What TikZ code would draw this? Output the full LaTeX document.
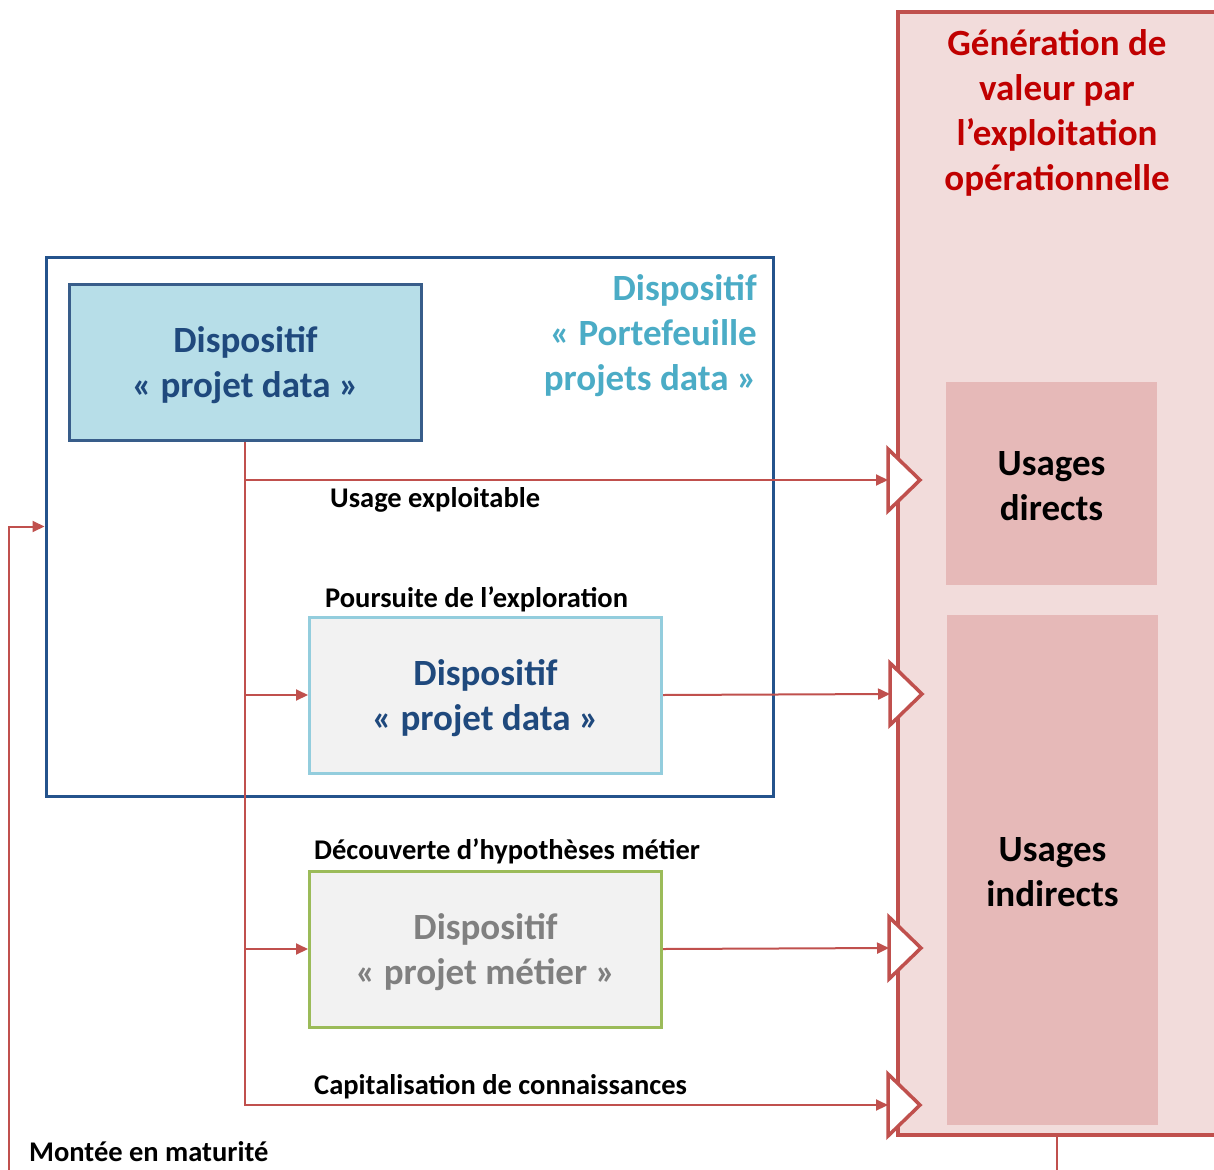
\documentclass[tikz,border=0pt]{standalone}
\usepackage{fontspec}
\setmainfont{Carlito}
\usetikzlibrary{arrows.meta}
\definecolor{rd}{HTML}{C0504D}
\definecolor{panelfill}{HTML}{F2DCDB}
\definecolor{usefill}{HTML}{E6B9B8}
\definecolor{dkblue}{HTML}{1F497D}
\definecolor{contblue}{HTML}{24538C}
\definecolor{box1border}{HTML}{385D8A}
\definecolor{box1fill}{HTML}{B7DEE8}
\definecolor{ltblue}{HTML}{93CDDD}
\definecolor{greenb}{HTML}{9BBB59}
\definecolor{boxgray}{HTML}{F2F2F2}
\definecolor{txtgray}{HTML}{808080}
\definecolor{teal}{HTML}{4BACC6}
\definecolor{titlered}{HTML}{C00000}
\newcommand\bigf{\fontsize{37}{45}\selectfont\bfseries}
\newcommand\lblf{\fontsize{28.5}{34}\selectfont\bfseries}
\begin{document}
\begin{tikzpicture}[x=1pt,y=-1pt,
  conn/.style={draw=rd, line width=2pt},
  tip/.style={-{Triangle[length=12pt,width=11pt]}},
  tri/.style={draw=rd, fill=white, line width=3.5pt, line join=miter},
  pbox/.style={draw, line width=3pt, minimum width=352pt, minimum height=156pt, inner sep=0pt},
  usebox/.style={fill=usefill, minimum width=211pt, inner sep=0pt},
  lbl/.style={anchor=west, inner sep=0pt, font=\lblf, text=black},
  ttl/.style={inner sep=0pt, align=center, font=\bigf}
]
\clip (0,0) rectangle (1214,1169);
\fill[white] (0,0) rectangle (1214,1169);
% right panel
\node[draw=rd, fill=panelfill, line width=3.5pt, minimum width=340pt, minimum height=1123pt, inner sep=0pt] (panel) at (1068,573.5) {};
\node[ttl, text=titlered] (ptitle) at (1057,112.5) {Génération de\\valeur par\\l’exploitation\\opérationnelle};
\node[usebox, minimum height=203pt] (ud) at (1051.5,483.5) {};
\node[ttl, text=black] (udt) at (1051.5,486.5) {Usages\\directs};
\node[usebox, minimum height=510pt] (ui) at (1052.5,870) {};
\node[ttl, text=black] (uit) at (1052.5,872.5) {Usages\\indirects};
% container
\node[draw=contblue, line width=3pt, minimum width=727pt, minimum height=539pt, inner sep=0pt] (cont) at (409.5,526.5) {};
\node[ttl, align=right, anchor=east, text=teal] (ctitle) at (757,336) {Dispositif\\« Portefeuille\\projets data »};
% boxes
\node[pbox, draw=box1border, fill=box1fill] (box1) at (245,362) {};
\node[ttl, text=dkblue] (box1t) at (245.5,365.5) {Dispositif\\« projet data »};
\node[pbox, draw=ltblue, fill=boxgray] (box2) at (485.5,695) {};
\node[ttl, text=dkblue] (box2t) at (485.5,698) {Dispositif\\« projet data »};
\node[pbox, draw=greenb, fill=boxgray] (box3) at (485.5,949) {};
\node[ttl, text=txtgray] (box3t) at (485.5,952.5) {Dispositif\\« projet métier »};
% labels
\node[lbl] (l1) at (330,500) {Usage exploitable};
\node[lbl] (l2) at (325,599.5) {Poursuite de l’exploration};
\node[lbl] (l3) at (314,851.5) {Découverte d’hypothèses métier};
\node[lbl] (l4) at (314,1087) {Capitalisation de connaissances};
\node[lbl] (l5) at (29,1152) {Montée en maturité};
% coordinates
\coordinate (t1) at (888,480);
\coordinate (t2) at (890,694);
\coordinate (t3) at (889,948);
\coordinate (t4) at (888,1105);
\coordinate (j4) at (245,1105);
\coordinate (mstart) at (9,1180);
\coordinate (out) at (1057,1180);
% connectors
\draw[conn] (box1.south) -- (j4) -- (t4);
\draw[conn,tip] (j4) -- (t4);
\draw[conn,tip] (box1.south |- t1) -- (t1);
\draw[conn,tip] (box1.south |- box2.west) -- (box2.west);
\draw[conn,tip] (box1.south |- box3.west) -- (box3.west);
\draw[conn,tip] (box2.east) -- (t2);
\draw[conn,tip] (box3.east) -- (t3);
\draw[conn,tip] (mstart) |- (cont.west);
\draw[conn] (panel.south -| out) -- (out);
% open triangles
\foreach \t in {t1,t2,t3,t4}{
  \draw[tri] (\t) ++(0,-31) -- ++(32,31) -- ++(-32,31) -- cycle;
}
\end{tikzpicture}
\end{document}
